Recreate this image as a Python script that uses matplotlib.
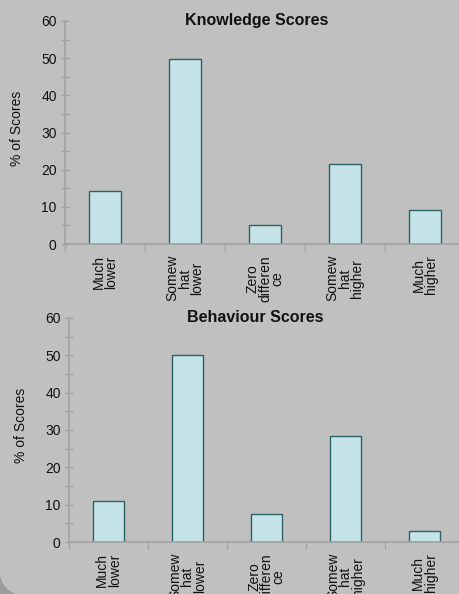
import numpy as np
import matplotlib
matplotlib.use('Agg')
from matplotlib import pyplot as plt
from matplotlib.patches import Polygon

plt.rcParams['font.family'] = ['Liberation Sans', 'DejaVu Sans']

categories = ['Much\nlower', 'Somew\nhat\nlower', 'Zero\ndifferen\nce',
              'Somew\nhat\nhigher', 'Much\nhigher']
knowledge = [14.3, 49.7, 5.2, 21.4, 9.2]
behaviour = [11.1, 50.0, 7.4, 28.4, 2.9]
yticks = [0, 10, 20, 30, 40, 50, 60]

bg = '#c0c0c0'
bar_face = '#c4e4e7'
bar_edge = '#2e6166'
axis_col = '#a2a2a2'
text_col = '#111111'

fig = plt.figure(figsize=(4.59, 5.94), dpi=100, facecolor=bg)

# darker rounded corner of the slide frame, bottom left
corner = [(0, 0), (0, 18 / 594), (3 / 459, 10 / 594), (8 / 459, 4 / 594), (16 / 459, 0)]
fig.patches.append(Polygon(corner, closed=True, transform=fig.transFigure,
                           facecolor='#9c9c9c', edgecolor='none'))

def draw(rect, values, title, title_xy, ylab_xy):
    ax = fig.add_axes(rect)
    ax.set_facecolor(bg)
    x = np.arange(len(values))
    ax.bar(x, values, width=0.4, color=bar_face, edgecolor=bar_edge, linewidth=1.0)
    ax.set_xlim(-0.5, len(values) - 0.5)
    ax.set_ylim(0, 60)
    ax.set_yticks(yticks)
    ax.set_yticks(np.arange(5, 60, 10), minor=True)
    ax.tick_params(axis='y', which='both', direction='inout', length=6, width=1,
                   color=axis_col, labelsize=10, labelcolor=text_col, pad=3)
    # category names centred under the bars, tick marks on the boundaries
    ax.set_xticks(x)
    ax.set_xticklabels(categories, rotation=90, fontsize=10, linespacing=0.85,
                       ha='center', va='top', multialignment='center')
    ax.set_xticks(np.arange(-0.5, len(values), 1.0), minor=True)
    ax.tick_params(axis='x', which='major', length=0, pad=8, labelcolor=text_col)
    ax.tick_params(axis='x', which='minor', direction='out', length=5, width=1,
                   color=axis_col)
    for s in ['top', 'right']:
        ax.spines[s].set_visible(False)
    for s in ['left', 'bottom']:
        ax.spines[s].set_color(axis_col)
        ax.spines[s].set_linewidth(1.2)
    fig.text(title_xy[0], title_xy[1], title, fontsize=11.5, fontweight='bold',
             ha='center', va='center', color=text_col)
    fig.text(ylab_xy[0], ylab_xy[1], '% of Scores', fontsize=10, rotation=90,
             ha='center', va='center', color=text_col)
    return ax

draw([65 / 459, 1 - 244 / 594, 400 / 459, 223 / 594], knowledge,
     'Knowledge Scores', (257 / 459, 1 - 20 / 594), (17 / 459, 1 - 128 / 594))
draw([69 / 459, 1 - 542 / 594, 395 / 459, 224 / 594], behaviour,
     'Behaviour Scores', (255 / 459, 1 - 317 / 594), (21 / 459, 1 - 425 / 594))

fig.savefig('out.png', dpi=100, facecolor=bg)
